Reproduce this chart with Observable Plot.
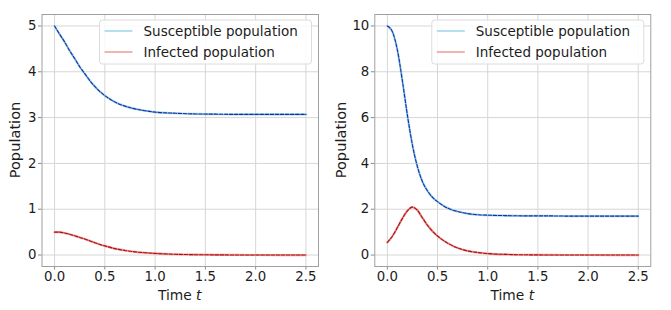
<!DOCTYPE html>
<html><head><meta charset="utf-8">
<script src="https://cdn.jsdelivr.net/npm/d3@7"></script>
<script src="https://cdn.jsdelivr.net/npm/@observablehq/plot@0.6"></script>
<style>
body{margin:0;background:#fff;}
#wrap{display:flex;width:671px;height:310px;}
svg{font-family:"DejaVu Sans",sans-serif;}
</style></head><body><div id="wrap"></div>
<script>
const time = [0,0.05,0.1,0.15,0.2,0.25,0.3,0.35,0.4,0.45,0.5,0.6,0.7,0.8,0.9,1.0,1.2,1.4,1.6,1.8,2.0,2.25,2.5];
const leftS  = [5.00,4.82,4.65,4.46,4.29,4.11,3.96,3.81,3.68,3.57,3.48,3.34,3.25,3.19,3.15,3.12,3.095,3.08,3.075,3.07,3.07,3.07,3.07];
const leftI  = [0.50,0.50,0.48,0.455,0.42,0.385,0.35,0.31,0.27,0.23,0.20,0.14,0.10,0.07,0.05,0.035,0.017,0.008,0.004,0.002,0.001,0.0,0.0];
const rightS = [10.0,9.75,8.95,7.6,6.1,4.8,3.85,3.2,2.8,2.52,2.33,2.05,1.9,1.81,1.76,1.74,1.72,1.71,1.71,1.70,1.70,1.70,1.70];
const rightI = [0.55,0.82,1.2,1.6,1.93,2.09,1.95,1.62,1.3,1.04,0.83,0.52,0.31,0.18,0.11,0.065,0.025,0.01,0.004,0.002,0.001,0.0,0.0];
const seriesNames = ["Susceptible population","Infected population"];
const xTicks = [0,0.5,1.0,1.5,2.0,2.5];
const leftYTicks = [0,1,2,3,4,5];
const rightYTicks = [0,2,4,6,8,10];

const C = {sLight:"#9ad4ee", sDash:"#16309e", iLight:"#f19a9a", iDash:"#a81010", grid:"#d6d6d6", frame:"#a0a0a0", tick:"#8a8a8a", text:"#1c1c1c"};

function panel(S, I, yDomain, yTicks, width, ml, mr, yLabelX) {
  const rows = time.map((t,i)=>({t, s:S[i], inf:I[i]}));
  const mt = 14, mb = 44, height = 310;
  const svg = Plot.plot({
    width, height, marginLeft: ml, marginRight: mr, marginTop: mt, marginBottom: mb,
    x:{domain:[-0.125,2.625], label:null},
    y:{domain:yDomain, label:null},
    style:{fontFamily:"DejaVu Sans", fontSize:"13.3px", color:C.text, background:"white", overflow:"visible"},
    marks:[
      Plot.gridX(xTicks,{stroke:C.grid, strokeOpacity:1}),
      Plot.gridY(yTicks,{stroke:C.grid, strokeOpacity:1}),
      Plot.axisX(xTicks,{tickSize:3.5, tickPadding:2, fontSize:13.3, stroke:C.tick, fill:C.text, tickFormat:d=>d.toFixed(1), label:null}),
      Plot.axisY(yTicks,{tickSize:3.5, tickPadding:2, fontSize:13.3, stroke:C.tick, fill:C.text, label:null}),
      Plot.line(rows,{x:"t", y:"s", stroke:C.sLight, strokeWidth:2.2, curve:"monotone-x"}),
      Plot.line(rows,{x:"t", y:"inf", stroke:C.iLight, strokeWidth:2.2, curve:"monotone-x"}),
      Plot.line(rows,{x:"t", y:"s", stroke:C.sDash, strokeWidth:1.1, strokeDasharray:"3.5,1.6", curve:"monotone-x"}),
      Plot.line(rows,{x:"t", y:"inf", stroke:C.iDash, strokeWidth:1.1, strokeDasharray:"3.5,1.6", curve:"monotone-x"}),
      Plot.frame({stroke:C.frame})
    ]
  });
  const s = d3.select(svg);
  const frameRight = width - mr;
  const cx = ml + (width - ml - mr)/2;
  const xl = s.append("text").attr("x", cx).attr("y", 300).attr("text-anchor","middle")
    .attr("fill", C.text).attr("font-size", 13.8);
  xl.append("tspan").text("Time ");
  xl.append("tspan").attr("font-style","italic").text("t");
  s.append("text").attr("transform", `translate(${yLabelX},${(mt + height - mb)/2}) rotate(-90)`)
    .attr("text-anchor","middle").attr("dy","0.35em").attr("fill", C.text).attr("font-size", 14.6).text("Population");
  const bw = 212, bh = 44, bx = frameRight - 6.5 - bw, by = mt + 6;
  const g = s.append("g").attr("text-anchor","start");
  g.append("rect").attr("x", bx).attr("y", by).attr("width", bw).attr("height", bh).attr("rx", 3)
    .attr("fill","white").attr("fill-opacity",0.85).attr("stroke","#dcdcdc");
  const cols = [C.sLight, C.iLight];
  seriesNames.forEach((name, i) => {
    const yy = by + 11 + i*21;
    g.append("line").attr("x1", bx+5).attr("x2", bx+33).attr("y1", yy).attr("y2", yy)
      .attr("stroke", cols[i]).attr("stroke-width", 1.5);
    g.append("text").attr("x", bx+44).attr("y", yy).attr("dy","0.35em").attr("text-anchor","start")
      .attr("fill", C.text).attr("font-size", 13.5).text(name);
  });
  return svg;
}

const wrap = document.getElementById("wrap");
wrap.appendChild(panel(leftS, leftI, [-0.25,5.25], leftYTicks, 335, 41.5, 17, 15));
wrap.appendChild(panel(rightS, rightI, [-0.5,10.5], rightYTicks, 336, 39.3, 20.7, 6));
</script></body></html>
